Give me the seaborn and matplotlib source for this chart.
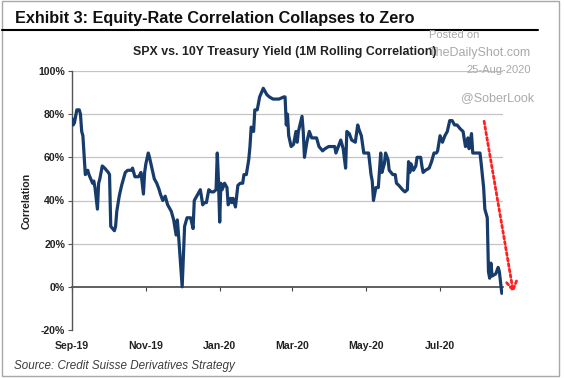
import pandas as pd
import numpy as np
import seaborn as sns
import matplotlib.pyplot as plt
import matplotlib.dates as mdates
from matplotlib.ticker import PercentFormatter, FixedLocator
from matplotlib.patches import Rectangle
from matplotlib.lines import Line2D

# 1M rolling correlation SPX vs 10Y yield (%)
dates_2019 = [
    "2019-09-01", "2019-09-02", "2019-09-03", "2019-09-05", "2019-09-07", "2019-09-08",
    "2019-09-09", "2019-09-10", "2019-09-12", "2019-09-14", "2019-09-15", "2019-09-18",
    "2019-09-19", "2019-09-20", "2019-09-22", "2019-09-23", "2019-09-24", "2019-09-26",
    "2019-09-28",
    "2019-10-01", "2019-10-02", "2019-10-03", "2019-10-06", "2019-10-07", "2019-10-08",
    "2019-10-10", "2019-10-12", "2019-10-15", "2019-10-17", "2019-10-20", "2019-10-21",
    "2019-10-23", "2019-10-26", "2019-10-27", "2019-10-28", "2019-10-30", "2019-10-31",
    "2019-11-01", "2019-11-03", "2019-11-04", "2019-11-06", "2019-11-08", "2019-11-10",
    "2019-11-12", "2019-11-13", "2019-11-15", "2019-11-17", "2019-11-19", "2019-11-22",
    "2019-11-24", "2019-11-26", "2019-11-27", "2019-11-28",
    "2019-12-01", "2019-12-03", "2019-12-05", "2019-12-08", "2019-12-10", "2019-12-11",
    "2019-12-14", "2019-12-16", "2019-12-18", "2019-12-19", "2019-12-21", "2019-12-23",
    "2019-12-25", "2019-12-27", "2019-12-29", "2019-12-30", "2019-12-31",
]
corr_2019 = [
    78, 75, 76, 82, 82, 80,
    72, 70, 52, 54, 52, 48,
    49, 46, 36, 48, 50, 56,
    55,
    53, 52, 28, 26, 28, 35,
    42, 47, 53, 54, 54, 55,
    51, 51, 52, 53, 43, 53,
    57, 62, 60, 55, 50, 48,
    45, 43, 40, 42, 38, 35,
    31, 24, 31, 24,
    0, 28, 32, 32, 27, 40,
    43, 45, 38, 39, 39, 45,
    44, 44, 45, 62, 49,
]
dates_2020 = [
    "2020-01-01", "2020-01-02", "2020-01-03", "2020-01-05", "2020-01-07", "2020-01-08",
    "2020-01-10", "2020-01-11", "2020-01-12", "2020-01-14", "2020-01-16", "2020-01-18",
    "2020-01-20", "2020-01-21", "2020-01-23", "2020-01-25", "2020-01-26", "2020-01-27",
    "2020-01-29", "2020-01-30",
    "2020-02-01", "2020-02-03", "2020-02-06", "2020-02-09", "2020-02-11", "2020-02-14",
    "2020-02-19", "2020-02-23", "2020-02-24", "2020-02-25", "2020-02-26", "2020-02-27",
    "2020-02-29",
    "2020-03-02", "2020-03-04", "2020-03-05", "2020-03-06", "2020-03-09", "2020-03-10",
    "2020-03-11", "2020-03-13", "2020-03-15", "2020-03-17", "2020-03-20", "2020-03-21",
    "2020-03-23", "2020-03-26", "2020-03-28", "2020-03-31",
    "2020-04-03", "2020-04-05", "2020-04-06", "2020-04-08", "2020-04-10", "2020-04-12",
    "2020-04-14", "2020-04-15", "2020-04-17", "2020-04-19", "2020-04-22", "2020-04-24",
    "2020-04-25", "2020-04-27", "2020-04-29",
    "2020-05-01", "2020-05-03", "2020-05-05", "2020-05-06", "2020-05-07", "2020-05-09",
    "2020-05-11", "2020-05-13", "2020-05-14", "2020-05-16", "2020-05-17", "2020-05-19",
    "2020-05-20", "2020-05-23", "2020-05-25", "2020-05-26", "2020-05-28", "2020-05-31",
    "2020-06-02", "2020-06-04", "2020-06-05", "2020-06-06", "2020-06-07", "2020-06-09",
    "2020-06-11", "2020-06-12", "2020-06-15", "2020-06-16", "2020-06-17", "2020-06-19",
    "2020-06-22", "2020-06-24", "2020-06-26", "2020-06-28", "2020-06-29",
    "2020-07-01", "2020-07-03", "2020-07-05", "2020-07-07", "2020-07-09", "2020-07-11",
    "2020-07-13", "2020-07-15", "2020-07-18", "2020-07-20", "2020-07-22", "2020-07-24",
    "2020-07-25", "2020-07-27", "2020-07-28", "2020-07-30",
    "2020-08-01", "2020-08-03", "2020-08-04", "2020-08-06", "2020-08-07", "2020-08-09",
    "2020-08-10", "2020-08-11", "2020-08-12", "2020-08-13", "2020-08-16", "2020-08-18",
    "2020-08-19", "2020-08-21",
]
corr_2020 = [
    30, 48, 45, 48, 46, 38,
    41, 39, 41, 37, 47, 48,
    48, 52, 52, 59, 65, 74,
    72, 82,
    82, 88, 92, 89, 88, 87,
    87, 88, 88, 75, 80, 70,
    65,
    66, 72, 67, 72, 79, 72,
    60, 67, 72, 69, 69, 69,
    65, 63, 64, 65,
    65, 65, 62, 65, 68, 64,
    55, 72, 71, 68, 67, 75,
    73, 70, 62,
    62, 62, 52, 49, 40, 46,
    46, 62, 53, 57, 62, 59,
    54, 52, 52, 48, 47, 45,
    44, 45, 58, 53, 57, 54,
    56, 60, 60, 56, 53, 54,
    55, 58, 62, 62, 63,
    70, 67, 70, 72, 77, 77,
    75, 75, 73, 72, 65, 69,
    64, 71, 62, 62,
    62, 62, 57, 46, 36, 32,
    7, 4, 11, 5, 6, 9,
    7, -3,
]

month_ticks = ["2019-09-01", "2019-11-01", "2020-01-01", "2020-03-01", "2020-05-01", "2020-07-01"]
month_labels = ["Sep-19", "Nov-19", "Jan-20", "Mar-20", "May-20", "Jul-20"]
y_ticks = [-20, 0, 20, 40, 60, 80, 100]

df = pd.DataFrame({
    "date": pd.to_datetime(dates_2019 + dates_2020),
    "corr": corr_2019 + corr_2020,
})

sns.set_theme(style="white")
plt.rcParams["font.family"] = ["Liberation Sans", "DejaVu Sans"]
plt.rcParams["axes.unicode_minus"] = False

fig = plt.figure(figsize=(5.64, 3.79), dpi=100)
ax = fig.add_axes([72 / 564, 1 - 330 / 379, 431 / 564, 259 / 379])

line_color = "#173c6b"
sns.lineplot(data=df, x="date", y="corr", ax=ax, color=line_color,
             linewidth=2.3, estimator=None, sort=True, zorder=3)

ax.set_xlim(pd.Timestamp("2019-09-01"), pd.Timestamp("2020-08-22"))
ax.set_ylim(-20, 100)
ax.set_xlabel("")
ax.set_ylabel("")

# horizontal grid above zero only
for v in y_ticks:
    if v > 0:
        ax.axhline(v, color="#c4c4c4", linewidth=0.9, zorder=1)

ax.yaxis.set_major_locator(FixedLocator(y_ticks))
ax.yaxis.set_major_formatter(PercentFormatter(100, decimals=0))
for sp in ["top", "right"]:
    ax.spines[sp].set_visible(False)
ax.spines["left"].set_color("#555555")
ax.spines["left"].set_linewidth(1.0)
ax.spines["bottom"].set_position(("data", 0))
ax.spines["bottom"].set_color("#444444")
ax.spines["bottom"].set_linewidth(1.2)
ax.spines["bottom"].set_zorder(2)

tick_dates = mdates.date2num(pd.to_datetime(month_ticks))
ax.set_xticks(tick_dates)
ax.tick_params(axis="x", direction="out", length=3, width=0.8, color="#444444",
               labelbottom=False, bottom=True)
ax.tick_params(axis="y", direction="out", length=3, width=0.8, color="#555555",
               left=True, labelsize=7.6, labelcolor="#222222", pad=2)
for lab in ax.get_yticklabels():
    lab.set_fontweight("bold")

# month labels sit below the -20% line
sec = ax.secondary_xaxis(0)
sec.set_xticks(tick_dates)
sec.set_xticklabels(month_labels)
sec.tick_params(length=0, labelsize=7.6, labelcolor="#222222", pad=8)
sec.spines["bottom"].set_visible(False)
for lab in sec.get_xticklabels():
    lab.set_fontweight("bold")

# red dotted arrow
ax.annotate("", xy=(pd.Timestamp("2020-08-31"), -4), xytext=(pd.Timestamp("2020-08-06"), 78),
            annotation_clip=False,
            arrowprops=dict(arrowstyle="->,head_width=0.3,head_length=0.5", color="#ff2020",
                            linestyle=(0, (1, 1)), linewidth=2.0))

# texts
fig.text(15 / 564, 1 - 18 / 379, "Exhibit 3: Equity-Rate Correlation Collapses to Zero",
         fontsize=11.7, fontweight="bold", va="center", ha="left", color="#111111")
fig.add_artist(Line2D([2 / 564, 538 / 564], [1 - 29.5 / 379, 1 - 29.5 / 379],
                      color="black", linewidth=1.5, transform=fig.transFigure))

fig.text(454 / 564, 1 - 35 / 379, "Posted on", fontsize=8, color="#a9a9a9",
         ha="center", va="center")
fig.text(531 / 564, 1 - 53 / 379, "TheDailyShot.com", fontsize=9, color="#a9a9a9",
         ha="right", va="center")
fig.text(531 / 564, 1 - 70 / 379, "25-Aug-2020", fontsize=8, color="#a9a9a9",
         ha="right", va="center")
fig.text(534 / 564, 1 - 98 / 379, "@SoberLook", fontsize=9, color="#a9a9a9",
         ha="right", va="center")

fig.text(285 / 564, 1 - 52.5 / 379, "SPX vs. 10Y Treasury Yield (1M Rolling Correlation)",
         fontsize=8.9, fontweight="bold", ha="center", va="center", color="#222222", zorder=5)
fig.text(27 / 564, 1 - 201 / 379, "Correlation", fontsize=7.6, fontweight="bold",
         rotation=90, ha="center", va="center", color="#222222")
fig.text(14 / 564, 1 - 366 / 379, "Source: Credit Suisse Derivatives Strategy",
         fontsize=8.4, fontstyle="italic", ha="left", va="center", color="#3c3c3c")

fig.patches.append(Rectangle((2 / 564, 3 / 379), 557 / 564, 375 / 379, transform=fig.transFigure,
                             fill=False, edgecolor="#a8a8a8", linewidth=1.0))

fig.savefig("out.png", dpi=100)
